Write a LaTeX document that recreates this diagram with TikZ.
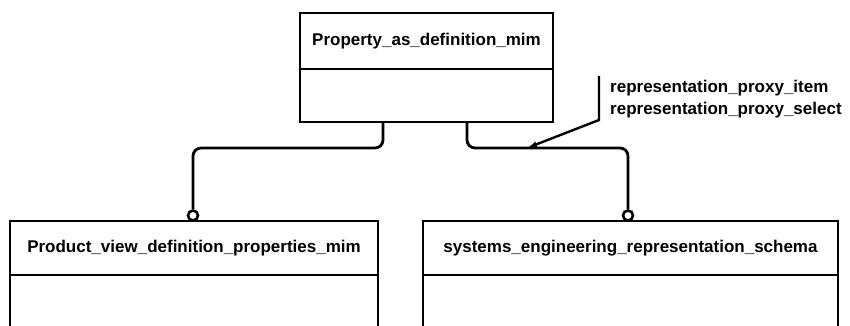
\documentclass[tikz,border=0pt]{standalone}
\usepackage{fontspec}
\setmainfont{Liberation Sans}
\usetikzlibrary{positioning, arrows.meta}

\tikzset{
  schema/.style={draw, line width=2.8pt, outer sep=0pt, inner sep=0pt,
    minimum height=56pt, font=\fontsize{17}{17}\selectfont\bfseries},
  schemabody/.style={draw, line width=2.8pt, outer sep=0pt, inner sep=0pt},
  link/.style={line width=2.8pt, rounded corners=8pt},
  usefrom/.style={circle, draw, line width=2.6pt, inner sep=0pt,
    minimum size=10pt, fill=white}
}

\begin{document}
\begin{tikzpicture}[x=1pt, y=-1pt]
\useasboundingbox (0,0) rectangle (850,326);
% schemas
\node[schema, minimum width=253pt, anchor=north west] (pasd) at (300,13)
    {Property\_as\_definition\_mim};
\node[schemabody, minimum width=253pt, minimum height=53pt,
    below=0pt of pasd] (pasdbody) {};
\node[schema, minimum width=368pt, minimum height=54pt, anchor=north west]
    (pvdp) at (10,221) {Product\_view\_definition\_properties\_mim};
\node[schemabody, minimum width=368pt, minimum height=80pt,
    below=0pt of pvdp] (pvdpbody) {};
\node[schema, minimum width=415pt, minimum height=54pt, anchor=north west]
    (sers) at (423,221) {systems\_engineering\_representation\_schema};
\node[schemabody, minimum width=415pt, minimum height=80pt,
    below=0pt of sers] (sersbody) {};
\node[usefrom] (pvdpmark) at (193,215.5) {};
\node[usefrom] (sersmark) at (628,215.5) {};
\draw[link] ([xshift=-43.5pt]pasdbody.south) -- ++(0,26) -| (pvdpmark.north);
\draw[link] ([xshift=40.5pt]pasdbody.south) -- ++(0,26) -| (sersmark.north);
% label of the reference
\node[font=\fontsize{17}{21}\selectfont\bfseries, align=left,
    anchor=base west, inner sep=0pt] (proxylbl) at (610,114)
    {representation\_proxy\_item\\representation\_proxy\_select};
\coordinate (proxytop) at (599,76);
\coordinate (proxybend) at (599,120);
\coordinate (proxytip) at (527,148);
\draw[line width=2.4pt, -{Latex[length=10pt, width=6pt]}]
    (proxytop) -- (proxybend) -- (proxytip);
\end{tikzpicture}
\end{document}
